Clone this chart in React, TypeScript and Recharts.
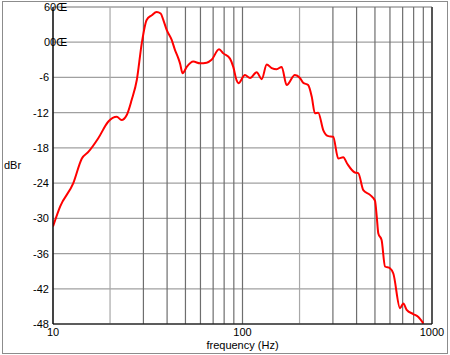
import React from 'react';
import { LineChart, Line, XAxis, YAxis, CartesianGrid, ReferenceLine } from 'recharts';

const freqs = [10, 10.9, 12.8, 14.2, 15.4, 17.3, 19.6, 21.7, 23.0, 24.5, 26.0, 27.7, 29.4, 31.2, 33.2, 35.2, 37.0, 38.2, 39.8, 42.3, 44.0, 45.8, 46.8, 48.3, 50.8, 55.0, 59.7, 64.7, 68.7, 75.2, 79.2, 85.9, 89.4, 93.1, 95.1, 103, 109.6, 118.8, 126.3, 134.2, 142.6, 151.5, 161, 171, 189, 201, 209, 222, 232, 241, 251, 267, 284, 301, 320, 340, 357, 392, 408, 434, 471, 500, 511, 521, 542, 565, 600, 625, 678, 706, 735, 796, 847, 900];
const levels = [-31.4, -28, -24, -19.8, -18.65, -16.4, -13.5, -12.7, -13.25, -12.4, -9.85, -6.4, -0.2, 3.8, 4.6, 5.15, 4.9, 3.8, 2.1, 0.4, -1.3, -2.7, -3.6, -5.3, -4.2, -3.3, -3.6, -3.5, -3.0, -1.2, -1.9, -2.8, -4.2, -6.5, -7.0, -5.6, -6.1, -5.1, -6.3, -3.8, -4.4, -4.6, -4.2, -7.3, -5.6, -6.1, -6.9, -7.3, -9.3, -12.1, -12.0, -15.0, -16.0, -16.1, -19.8, -19.6, -20.7, -22.2, -22.3, -25.2, -26.0, -27.0, -29.7, -32.6, -33.7, -38.2, -38.5, -39.4, -45.3, -44.5, -45.6, -46.3, -46.8, -47.9];

const xTicks = [10, 20, 30, 40, 50, 60, 70, 80, 90, 100, 200, 300, 400, 500, 600, 700, 800, 900, 1000];
const xTickLabels = [10, 100, 1000];
const lightXGrid = [20, 200];
const yTicks = [-48, -42, -36, -30, -24, -18, -12, -6, 0, 6];
const yTickLabels: Record<string, string> = { '6': '60Œ', '0': '00Œ' };

const data = freqs.map((f, i) => ({ f, db: levels[i] }));

const FONT = '"Liberation Sans", Arial, sans-serif';

const YTick = (props: any) => {
  const { x, y, payload } = props;
  const v = payload.value;
  const special = yTickLabels[String(v)];
  if (special) {
    return (
      <text x={x - 5} y={y} dy={4} textAnchor="start" fontSize={11} fontFamily={FONT} fill="#000">
        {special}
      </text>
    );
  }
  return (
    <text x={x} y={y} dy={4} textAnchor="end" fontSize={11} fontFamily={FONT} fill="#000">
      {String(v)}
    </text>
  );
};

export default function App() {
  return (
    <div style={{ position: 'absolute', left: 0, top: 0, width: 450, height: 355, background: '#fff' }}>
      <div
        style={{
          position: 'absolute',
          left: 2,
          top: 1,
          width: 446,
          height: 353,
          boxSizing: 'border-box',
          border: '1px solid #8c8c8c',
        }}
      />
      <div style={{ position: 'absolute', left: 0, top: 0 }}>
        <LineChart width={450} height={355} data={data} margin={{ top: 7, right: 18, left: 0, bottom: 0 }}>
          <CartesianGrid vertical={false} stroke="#a0a0a0" strokeWidth={1.3} />
          {xTicks.map((t) => (
            <ReferenceLine
              key={t}
              x={t}
              stroke={t === 1000 ? '#555' : lightXGrid.includes(t) ? '#a8a8a8' : '#6e6e6e'}
              strokeWidth={t === 1000 ? 2 : 1.2}
              ifOverflow="extendDomain"
            />
          ))}
          <XAxis
            dataKey="f"
            type="number"
            scale="log"
            domain={[10, 1000]}
            ticks={xTicks}
            allowDataOverflow
            tickFormatter={(v: number) => (xTickLabels.includes(v) ? String(v) : '')}
            interval={0}
            height={31}
            tickLine={false}
            tickSize={2}
            tickMargin={2}
            axisLine={{ stroke: '#000', strokeWidth: 1.2 }}
            tick={{ fontSize: 11, fontFamily: FONT, fill: '#000' }}
            label={{ value: 'frequency (Hz)', position: 'insideBottom', offset: 6, fontSize: 11, fontFamily: FONT, fill: '#000' }}
          />
          <YAxis
            type="number"
            domain={[-48, 6]}
            ticks={yTicks}
            interval={0}
            width={53}
            tickLine={false}
            tickSize={2}
            tickMargin={2}
            axisLine={{ stroke: '#000', strokeWidth: 1.2 }}
            tick={<YTick />}
            label={{ value: 'dBr', position: 'insideLeft', offset: 4, angle: 0, fontSize: 11, fontFamily: FONT, fill: '#000' }}
          />
          <Line
            type="monotone"
            dataKey="db"
            stroke="#ff0000"
            strokeWidth={2}
            dot={false}
            isAnimationActive={false}
          />
        </LineChart>
      </div>
    </div>
  );
}
